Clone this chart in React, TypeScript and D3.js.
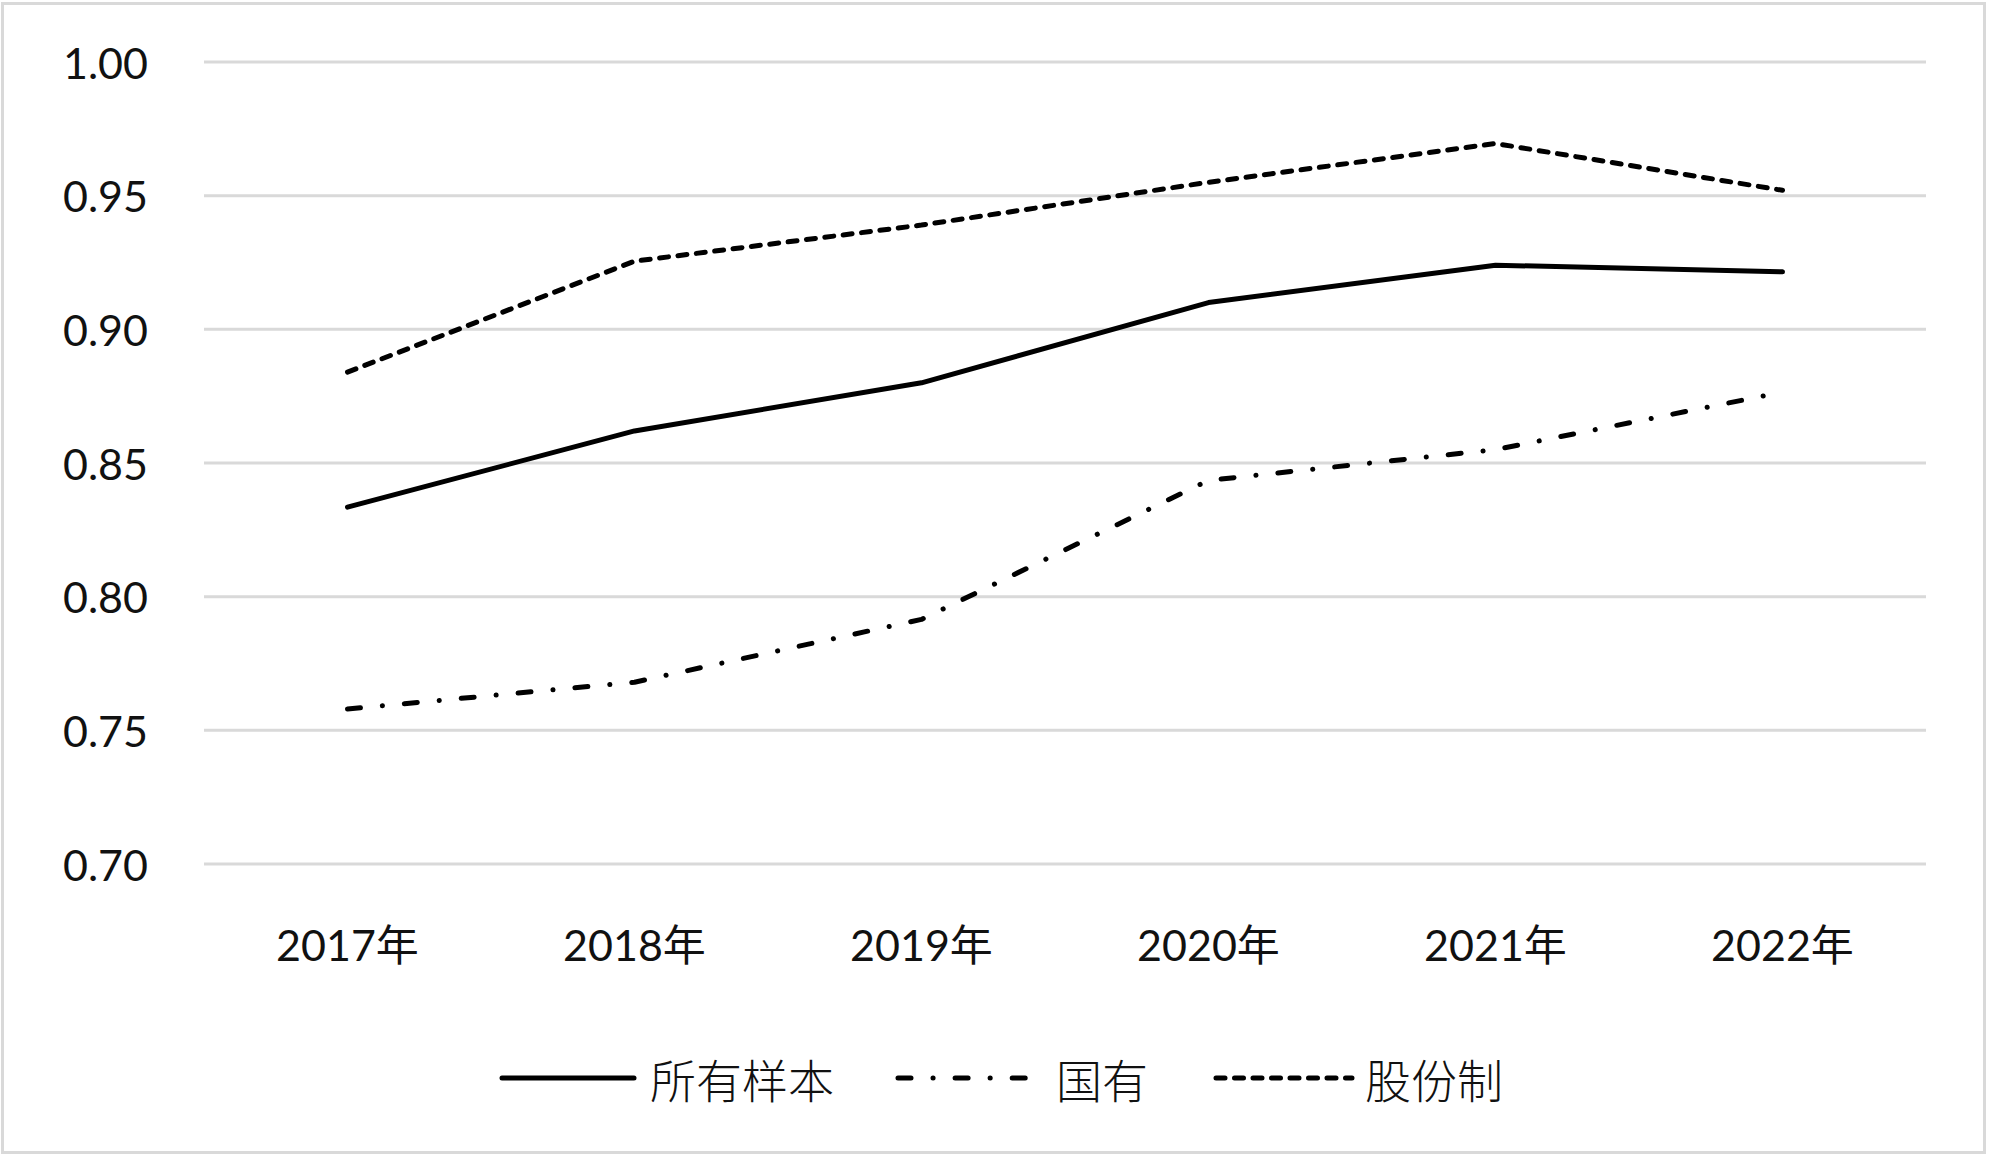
import React from "react";
import * as d3 from "d3";

const categories = ["2017年", "2018年", "2019年", "2020年", "2021年", "2022年"];
const allSamples = [0.8335, 0.862, 0.880, 0.910, 0.924, 0.9215];
const stateOwned = [0.758, 0.768, 0.7915, 0.8435, 0.855, 0.8765];
const jointStock = [0.884, 0.9255, 0.939, 0.955, 0.9695, 0.952];
const yTicks = [0.7, 0.75, 0.8, 0.85, 0.9, 0.95, 1.0];
const seriesNames = ["所有样本", "国有", "股份制"];

const W = 1999;
const H = 1168;
const LW = 5;

const styles = [
  { dash: undefined as string | undefined, cap: "round" },
  { dash: "13 22 0.1 22", cap: "round" },
  { dash: "9 9.5", cap: "round" },
];

export default function App() {
  const x = d3.scalePoint<string>().domain(categories).range([204, 1926]).padding(0.5);
  const y = d3.scaleLinear().domain([0.7, 1.0]).range([864, 62]);
  const line = d3
    .line<number>()
    .x((_, i) => x(categories[i]) as number)
    .y((d) => y(d));
  const series = [allSamples, stateOwned, jointStock];
  const numFont = "Lato, 'Noto Sans CJK SC', sans-serif";
  const cjkFont = "'Noto Sans CJK SC', sans-serif";

  const legend = [
    { x1: 502, x2: 634, tx: 650 },
    { x1: 898, x2: 1026, tx: 1056 },
    { x1: 1216, x2: 1352, tx: 1365 },
  ];
  const legendY = 1078;

  return (
    <svg
      width={W}
      height={H}
      style={{ position: "absolute", left: 0, top: 0, background: "#fff" }}
    >
      <rect x={2.5} y={3.5} width={1982} height={1149} fill="#fff" stroke="#d9d9d9" strokeWidth={3} />
      {yTicks.map((t) => (
        <g key={t}>
          <line x1={204} x2={1926} y1={y(t)} y2={y(t)} stroke="#d9d9d9" strokeWidth={3} />
          <text
            x={148}
            y={y(t)}
            textAnchor="end"
            dominantBaseline="central"
            fontFamily={numFont}
            fontSize={43}
            fill="#111"
          >
            {t.toFixed(2)}
          </text>
        </g>
      ))}
      {categories.map((c) => (
        <text
          key={c}
          x={x(c) as number}
          y={944}
          textAnchor="middle"
          dominantBaseline="central"
          fontFamily={numFont}
          fontSize={43}
          fill="#111"
        >
          {c}
        </text>
      ))}
      {series.map((s, i) => (
        <path
          key={i}
          d={line(s) as string}
          fill="none"
          stroke="#000"
          strokeWidth={LW}
          strokeDasharray={styles[i].dash}
          strokeLinecap={styles[i].cap as any}
          strokeLinejoin="round"
        />
      ))}
      {legend.map((l, i) => (
        <g key={i}>
          <line
            x1={l.x1}
            x2={l.x2}
            y1={legendY}
            y2={legendY}
            stroke="#000"
            strokeWidth={LW}
            strokeDasharray={styles[i].dash}
            strokeLinecap="round"
          />
          <text
            x={l.tx}
            y={legendY}
            dominantBaseline="central"
            fontFamily={cjkFont}
            fontSize={46}
            fontWeight={300}
            fill="#111"
          >
            {seriesNames[i]}
          </text>
        </g>
      ))}
    </svg>
  );
}
